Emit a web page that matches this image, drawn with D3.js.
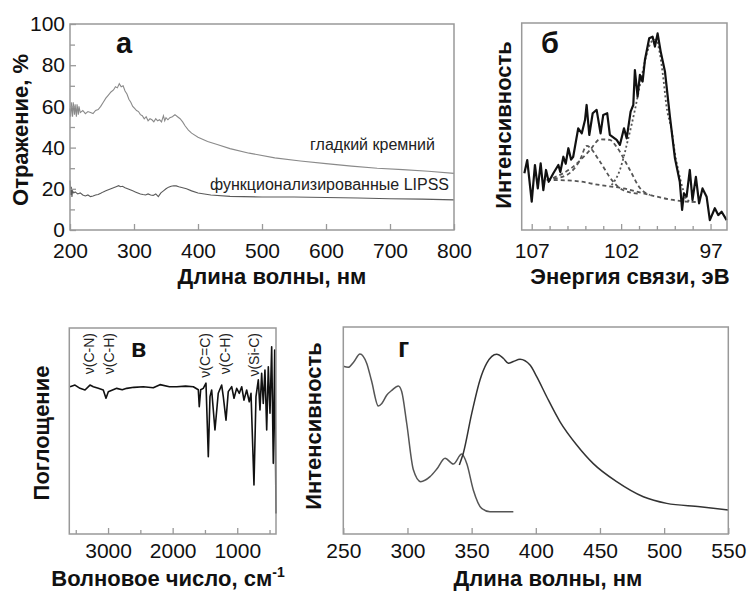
<!DOCTYPE html>
<html>
<head>
<meta charset="utf-8">
<script src="https://cdn.jsdelivr.net/npm/d3@7"></script>
<style>
  body { margin: 0; background: #fff; }
  svg { font-family: "Liberation Sans", Arial, sans-serif; }
</style>
</head>
<body>
<div id="chart"></div>
<script>
// ---- panel а: reflectance ----
var reflSmooth = [[200,59],[201,55],[202,62],[204,55],[205,62],[207,56],[208,61],[210,55],[211,61],[213,56],[214,60],[216,57],
  [220,58],[224,56.5],[228,57.5],[232,57],[236,56.5],[240,58],[244,58.5],[248,60],[252,62],[256,64],[260,65.5],[264,67],
  [268,68],[271,69.5],[274,69],[277,71],[280,69.5],[283,70],[286,67.5],[289,66],[292,63.5],[295,62],[298,60],[301,59],
  [304,58],[307,57.5],[310,56],[313,55.5],[316,54],[319,55],[322,53],[325,54],[328,53.5],[331,52.5],[334,54],[337,53],
  [340,53.5],[343,52.5],[346,55.5],[348,53],[350,54.5],[353,53.5],[356,54.5],[360,55],[364,56],[368,55],[372,54],
  [376,52.5],[380,50.5],[385,48.5],[390,47],[400,45],[415,43],[430,41.5],[450,39.5],[480,37.3],[520,35],[560,33.5],
  [600,32.2],[640,31],[680,30],[720,29.3],[760,28.5],[800,27.5]];
var reflLipss = [[200,24],[201,17],[202,21],[203,16],[204,19],[206,18],[208,18.5],[212,17.5],[216,18],[220,17],[224,16.5],
  [228,17],[232,16.2],[236,16.5],[240,17],[244,17.2],[248,17.8],[252,18.5],[256,19],[260,19.5],[264,20],[268,20.5],
  [272,21],[276,21.5],[279,21],[282,21.2],[286,20.5],[290,20],[294,19.5],[298,19],[302,18.5],[306,18],[310,17.5],
  [314,17.2],[318,17],[322,17.5],[326,17],[330,16.8],[334,17.5],[338,16.2],[342,18],[346,19],[350,20],[354,20.8],
  [358,21.2],[362,21.5],[366,21.4],[370,21],[376,20.5],[382,20],[390,19],[400,18],[420,17],[450,16.3],[500,16],
  [550,16],[600,15.8],[650,15.5],[700,15.2],[750,15],[800,14.6]];
var reflXTicks = [200,300,400,500,600,700,800];
var reflYTicks = [0,20,40,60,80,100];
var reflYMinor = [10,30,50,70,90];

// ---- panel б: XPS ----
var xpsMeasured = [[107.41,27.4],[107.25,33.8],[107,13.7],[106.82,31.4],[106.66,20.1],[106.5,32.2],[106.35,19.3],[106.2,29],
  [106.05,23.3],[105.79,27.4],[105.51,31.4],[105.4,28],[105.23,35.4],[105.1,32],[104.95,39.5],[104.8,34],[104.68,35.4],
  [104.4,49.1],[104.2,46.7],[104.02,53.1],[103.93,60.4],[103.78,45.9],[103.59,56.4],[103.37,58],[103.15,46.7],[103.0,55.6],
  [102.78,56.4],[102.63,45.9],[102.25,43.5],[102.07,41.1],[101.84,49.1],[101.69,44.3],[101.47,57.2],[101.32,60.4],
  [101.23,77.3],[101.08,64.4],[100.95,74.9],[100.8,71.7],[100.67,82.1],[100.43,92.6],[100.24,93.4],[100.11,88.6],
  [99.96,95],[99.79,86.3],[99.55,76.6],[99.27,54.7],[98.99,34.6],[98.72,23.3],[98.59,9.7],[98.49,17.7],[98.34,16.1],
  [98.16,29],[98.01,14.5],[97.82,25.7],[97.64,12.9],[97.45,20.1],[97.22,16.1],[97.04,4.8],[96.76,10.5],[96.57,7.2],
  [96.38,8.8],[96.1,4.8]];
var xpsBackground = [[106.16,24.2],[104.68,23.8],[103.18,21.7],[101.88,20.1],[100.39,16.9],[99.09,14.5],[98.34,13.7],[97.6,13.5]];
var xpsPeakA = [[106.16,24.2],[105.04,26.6],[104.3,33.8],[103.93,40.6],[103.18,33],[102.53,24.2],[101.9,19.3],[100.95,17.4]];
var xpsPeakB = [[105.81,25.1],[104.77,30],[103.74,38.6],[103.18,43.8],[102.63,43.5],[102.25,40.1],[101.51,29],[100.95,20.3],[100.39,16.9]];
var xpsPeakC = [[102.53,21.7],[102.07,29],[101.62,43.5],[101.23,58],[100.9,72],[100.6,84],[100.3,91],[100.05,92],[99.85,86],
  [99.65,74],[99.46,59.6],[99.18,48.3],[98.99,37],[98.81,29],[98.53,19.3],[98.34,14.5],[98.0,13.7]];
var xpsXTicks = [107,102,97];
var xpsXMinor = [106,105,104,103,101,100,99,98];

// ---- panel в: IR ----
var irSpectrum = [[3589,71.5],[3512,72.3],[3434,70.7],[3357,69.9],[3280,72.3],[3228,71.5],[3151,70.7],[3074,69.9],
  [3032,65.9],[2996,69.1],[2866,70.7],[2780,70],[2711,70.7],[2600,71.2],[2454,71.5],[2300,71],[2196,72.5],[2050,71.5],
  [1937,71.5],[1800,71.8],[1680,71.5],[1603,70],[1588,61.8],[1566,70],[1526,70.7],[1484,73.2],[1448,37.5],[1422,66.7],
  [1396,69.9],[1345,50.5],[1294,68.3],[1241,72.3],[1216,66.7],[1174,55.3],[1139,69.1],[1086,71.5],[1050,65.9],[1009,70.7],
  [968,68.3],[931,71.5],[896,65],[854,69.9],[814,64.2],[787,68.3],[741,23.8],[710,66.7],[674,74.8],[648,60.2],[622,78],
  [597,63.4],[571,79.6],[544,50.5],[519,81.2],[493,58.6],[467,90.9],[442,34.3],[420,89.3],[400,10]];
var irXTicks = [3000,2000,1000];
var irXMinor = [3500,2500,1500,500];
var irBands = [["ν(C-N)",3300],["ν(C-H)",2990],["ν(C=C)",1500],["ν(C-H)",1190],["ν(Si-C)",740]];

// ---- panel г: absorption / emission ----
var absSpectrum = [[250,81],[253.9,80.5],[258,83],[263,87],[268.2,82.5],[272,74],[277.3,61.8],[280,63],[283.8,67],
  [288,69.5],[292.9,71.5],[295.5,68.8],[299.4,53.5],[304.6,31],[310.3,25.3],[317.6,27.7],[323,31.5],[329.3,36.6],
  [335.7,33.8],[342.3,38.6],[346.2,34],[351.3,21.3],[357.8,12.4],[364.3,10.8],[382.5,10.8]];
var emSpectrum = [[340.4,33.3],[343.5,39],[350,58],[356.5,74.4],[361.8,82.5],[369.5,86.8],[374.7,84.9],[378.6,82.5],
  [382.5,83.3],[387.7,84.4],[395.5,81.6],[400.7,76],[408.5,66.3],[418.9,54.2],[431.9,43],[444.8,34],[463,25.3],
  [483.8,18],[502,14.8],[528,13.2],[550,11.6]];
var flXTicks = [250,300,350,400,450,500,550];

var width = 750, height = 592;
var svg = d3.select('#chart').append('svg').attr('width', width).attr('height', height);
var frameColor = '#999';

function frame(x0, y0, x1, y1) {
  svg.append('rect').attr('x', x0).attr('y', y0).attr('width', x1 - x0).attr('height', y1 - y0)
    .attr('fill', 'none').attr('stroke', frameColor).attr('stroke-width', 1.5);
}
function bottomAxis(x, y0, ticks, minor, pad, fmt) {
  var g = svg.append('g').attr('transform', 'translate(0,' + y0 + ')')
    .call(d3.axisBottom(x).tickValues(ticks).tickSize(-6).tickPadding(pad).tickFormat(fmt || d3.format('d')));
  g.select('.domain').remove();
  g.selectAll('line').attr('stroke', frameColor).attr('stroke-width', 1.3);
  g.selectAll('text').attr('font-size', 21).attr('fill', '#111').attr('font-family', 'Liberation Sans');
  if (minor) {
    var m = svg.append('g').attr('transform', 'translate(0,' + y0 + ')')
      .call(d3.axisBottom(x).tickValues(minor).tickSize(-4).tickFormat(''));
    m.select('.domain').remove();
    m.selectAll('line').attr('stroke', frameColor).attr('stroke-width', 1.3);
  }
}
function title(text, x, y, rotate) {
  var t = svg.append('text').attr('font-size', 22).attr('font-weight', 'bold').attr('fill', '#111')
    .attr('text-anchor', 'middle');
  if (rotate) t.attr('transform', 'translate(' + x + ',' + y + ') rotate(-90)');
  else t.attr('x', x).attr('y', y);
  t.text(text);
  return t;
}
function letter(text, x, y, size) {
  svg.append('text').attr('x', x).attr('y', y).attr('font-size', size).attr('font-weight', 'bold')
    .attr('fill', '#111').text(text);
}

// ===== а =====
var xA = d3.scaleLinear().domain([200, 800]).range([70, 454]);
var yA = d3.scaleLinear().domain([0, 100]).range([230, 24]);
var lineA = d3.line().x(function (d) { return xA(d[0]); }).y(function (d) { return yA(d[1]); });
svg.append('path').datum(reflSmooth).attr('d', lineA).attr('fill', 'none').attr('stroke', '#8a8a8a').attr('stroke-width', 1.1);
svg.append('path').datum(reflLipss).attr('d', lineA).attr('fill', 'none').attr('stroke', '#5a5a5a').attr('stroke-width', 1.1);
frame(70, 24, 454, 230);
bottomAxis(xA, 230, reflXTicks, null, 13);
var gy = svg.append('g').attr('transform', 'translate(70,0)')
  .call(d3.axisLeft(yA).tickValues(reflYTicks).tickSize(-6).tickPadding(5));
gy.select('.domain').remove();
gy.selectAll('line').attr('stroke', frameColor).attr('stroke-width', 1.3);
gy.selectAll('text').attr('font-size', 21).attr('fill', '#111');
var gym = svg.append('g').attr('transform', 'translate(70,0)')
  .call(d3.axisLeft(yA).tickValues(reflYMinor).tickSize(-5).tickFormat(''));
gym.select('.domain').remove();
gym.selectAll('line').attr('stroke', frameColor).attr('stroke-width', 1.3);
title('Длина волны, нм', 272, 284);
title('Отражение, %', 28, 130, true);
letter('а', 116, 53, 29);
svg.append('text').attr('x', 435).attr('y', 150).attr('text-anchor', 'end').attr('font-size', 16).attr('fill', '#222')
  .text('гладкий кремний');
svg.append('text').attr('x', 449).attr('y', 190).attr('text-anchor', 'end').attr('font-size', 16).attr('fill', '#222')
  .text('функционализированные LIPSS');

// ===== б =====
var xB = d3.scaleLinear().domain([107.56, 96.08]).range([521.7, 727]);
var yB = d3.scaleLinear().domain([0, 100]).range([230, 23]);
var lineB = d3.line().x(function (d) { return xB(d[0]); }).y(function (d) { return yB(d[1]); });
var smoothB = d3.line().curve(d3.curveMonotoneX).x(function (d) { return xB(d[0]); }).y(function (d) { return yB(d[1]); });
[xpsBackground, xpsPeakA, xpsPeakB].forEach(function (s) {
  svg.append('path').datum(s).attr('d', smoothB).attr('fill', 'none').attr('stroke', '#555')
    .attr('stroke-width', 1.8).attr('stroke-dasharray', '4,3');
});
svg.append('path').datum(xpsPeakC).attr('d', smoothB).attr('fill', 'none').attr('stroke', '#555')
  .attr('stroke-width', 1.8).attr('stroke-dasharray', '2,2.5');
svg.append('path').datum(xpsMeasured).attr('d', lineB).attr('fill', 'none').attr('stroke', '#111')
  .attr('stroke-width', 2.2).attr('stroke-linejoin', 'round');
frame(521.7, 23, 727, 230);
bottomAxis(xB, 230, xpsXTicks, xpsXMinor, 13);
title('Энергия связи, эВ', 630, 284);
title('Интенсивность', 511, 125, true);
letter('б', 541, 53, 29);

// ===== в =====
var xC = d3.scaleLinear().domain([3600, 400]).range([69.3, 276]);
var yC = d3.scaleLinear().domain([0, 100]).range([534, 328]);
var lineC = d3.line().x(function (d) { return xC(d[0]); }).y(function (d) { return yC(d[1]); });
svg.append('path').datum(irSpectrum).attr('d', lineC).attr('fill', 'none').attr('stroke', '#111')
  .attr('stroke-width', 1.6).attr('stroke-linejoin', 'round');
frame(69.3, 328, 276, 534);
bottomAxis(xC, 534, irXTicks, irXMinor, 9);
var tC = title('Волновое число, см', 168, 586);
tC.append('tspan').attr('font-size', 14).attr('dy', -9).text('-1');
title('Поглощение', 49, 433, true);
letter('в', 131, 357, 25);
irBands.forEach(function (b) {
  svg.append('text').attr('transform', 'translate(' + (xC(b[1]) + 5) + ',333) rotate(-90)')
    .attr('text-anchor', 'end').attr('font-size', 14).attr('fill', '#222').text(b[0]);
});

// ===== г =====
var xD = d3.scaleLinear().domain([250, 550]).range([343.3, 728.3]);
var yD = d3.scaleLinear().domain([0, 100]).range([534, 327]);
var lineD = d3.line().curve(d3.curveMonotoneX).x(function (d) { return xD(d[0]); }).y(function (d) { return yD(d[1]); });
svg.append('path').datum(absSpectrum).attr('d', lineD).attr('fill', 'none').attr('stroke', '#555').attr('stroke-width', 1.5);
svg.append('path').datum(emSpectrum).attr('d', lineD).attr('fill', 'none').attr('stroke', '#333').attr('stroke-width', 1.5);
frame(343.3, 327, 728.3, 534);
bottomAxis(xD, 534, flXTicks, null, 9);
title('Длина волны, нм', 548, 586);
title('Интенсивность', 321, 426, true);
letter('г', 398, 357, 27);
</script>
</body>
</html>
